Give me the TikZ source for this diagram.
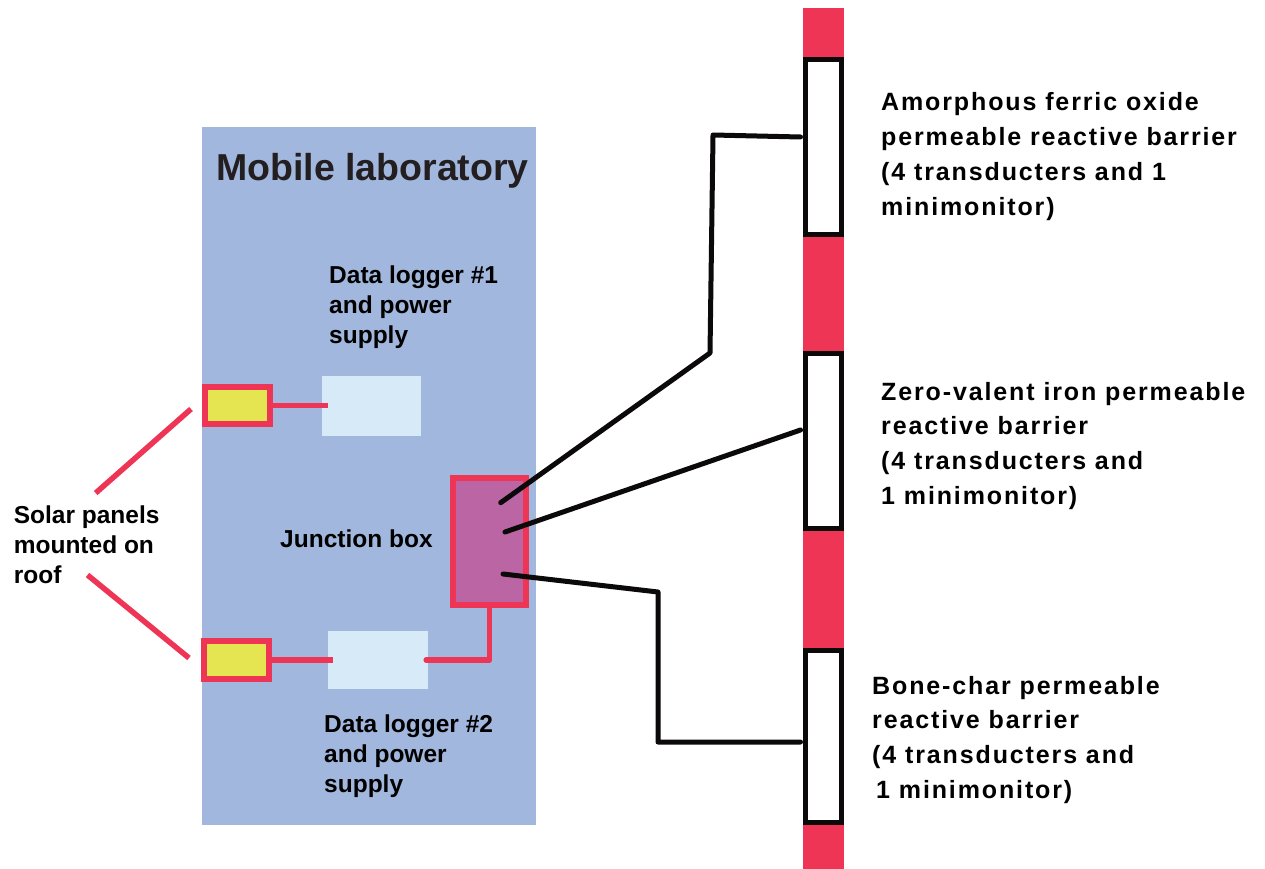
\documentclass[tikz,border=0pt]{standalone}
\usepackage{fontspec}
\setmainfont{Liberation Sans}
\newfontfamily\rfont{Liberation Sans}[LetterSpace=7.5]
\usetikzlibrary{calc}
\definecolor{labblue}{RGB}{162,183,221}
\definecolor{loggerfill}{RGB}{214,234,248}
\definecolor{redc}{RGB}{238,53,86}
\definecolor{yellowc}{RGB}{229,229,82}
\definecolor{purplec}{RGB}{188,101,165}
\definecolor{blackc}{RGB}{11,9,9}
\definecolor{titlec}{RGB}{35,31,32}
\tikzset{
  labbox/.style={fill=labblue, draw=none, inner sep=0},
  loggerbox/.style={fill=loggerfill, draw=none, inner sep=0},
  panelbox/.style={fill=yellowc, draw=redc, line width=6pt, inner sep=0, minimum width=65pt},
  jbox/.style={fill=purplec, draw=redc, line width=6pt, inner sep=0, minimum width=73pt, minimum height=127pt},
  barrierbox/.style={fill=white, draw=blackc, line width=5pt, inner sep=0, minimum width=36pt},
  redwire/.style={draw=redc, line width=5.5pt},
  blackwire/.style={draw=blackc, line width=5pt, line cap=round, line join=round},
  lefttext/.style={anchor=base west, inner sep=0, font=\fontsize{24.5}{30}\selectfont\bfseries, text=black},
  righttext/.style={anchor=base west, inner sep=0, font=\rfont\fontsize{25}{34.8}\selectfont\bfseries, text=black}
}
\begin{document}
\begin{tikzpicture}[x=1pt,y=-1pt]
\useasboundingbox (0,0) rectangle (1265,869);
% mobile laboratory
\node[labbox, minimum width=334pt, minimum height=698pt] (lab) at (369,476) {};
\node[anchor=base west, inner sep=0, font=\fontsize{37.5}{40}\selectfont\bfseries, text=titlec] (title) at (216,180) {Mobile laboratory};
% data loggers
\node[loggerbox, minimum width=99pt, minimum height=60pt] (logger1) at (371.5,406) {};
\node[loggerbox, minimum width=100pt, minimum height=58pt] (logger2) at (378,660) {};
% solar panels
\node[panelbox, minimum height=37pt] (panel1) at (237.5,405.5) {};
\node[panelbox, minimum height=38pt] (panel2) at (236.5,660) {};
% junction box
\node[jbox] (jb) at (489.5,541.5) {};
% labels
\node[lefttext] (l1text) at (329,283) {\begin{tabular}[t]{@{}l@{}}Data logger \#1\\ and power\\ supply\end{tabular}};
\node[lefttext] (l2text) at (324,732) {\begin{tabular}[t]{@{}l@{}}Data logger \#2\\ and power\\ supply\end{tabular}};
\node[lefttext] (jbtext) at (280,547) {Junction box};
\node[lefttext] (soltext) at (13.6,523) {\begin{tabular}[t]{@{}l@{}}Solar panels\\ mounted on\\ roof\end{tabular}};
% red wires
\draw[redwire] (panel1.east) -- ($(panel1.east -| logger1.west)+(6,0)$);
\draw[redwire] (panel2.east) -- ($(panel2.east -| logger2.west)+(5,0)$);
\draw[redwire, line join=round, line cap=round] (jb.south) |- ($(logger2.east)+(-2,0)$);
% solar label pointers
\coordinate (s1a) at (95.7,493);
\coordinate (s1b) at (191,409);
\coordinate (s2a) at (87.5,575);
\coordinate (s2b) at (189,658);
\draw[redwire] (s1a) -- (s1b);
\draw[redwire] (s2a) -- (s2b);
% barrier strip
\fill[redc] (803,8) rectangle (844,869);
\node[barrierbox, minimum height=175pt] (b1) at (823.5,147) {};
\node[barrierbox, minimum height=175pt] (b2) at (823.5,441) {};
\node[barrierbox, minimum height=172pt] (b3) at (823.5,736.5) {};
% barrier labels
\node[righttext] (t1) at (881,111) {\begin{tabular}[t]{@{}l@{}}Amorphous ferric oxide\\ permeable reactive barrier\\ (4 transducters and 1\\ minimonitor)\end{tabular}};
\node[righttext] (t2) at (881,400) {\begin{tabular}[t]{@{}l@{}}Zero-valent iron permeable\\ reactive barrier\\ (4 transducters and\\ 1 minimonitor)\end{tabular}};
\node[righttext] (t3) at (872,694) {\begin{tabular}[t]{@{}l@{}}Bone-char permeable\\ reactive barrier\\ (4 transducters and\\ \hspace{4pt}1 minimonitor)\end{tabular}};
% black cables
\coordinate (j1) at (500.7,502.7);
\coordinate (j2) at (505,532);
\coordinate (j3) at (503,574);
\coordinate (ca) at (710,353);
\coordinate (cb) at (713,135);
\coordinate (cc) at (658,592);
\coordinate (e1) at ($(b1.west)+(-2.5,-10)$);
\coordinate (e2) at ($(b2.west)+(-2.5,-11)$);
\coordinate (e3) at ($(b3.west)+(-2.5,5.5)$);
\draw[blackwire] (j1) -- (ca) -- (cb) -- (e1);
\draw[blackwire] (j2) -- (e2);
\draw[blackwire] (j3) -- (cc) |- (e3);
\end{tikzpicture}
\end{document}
